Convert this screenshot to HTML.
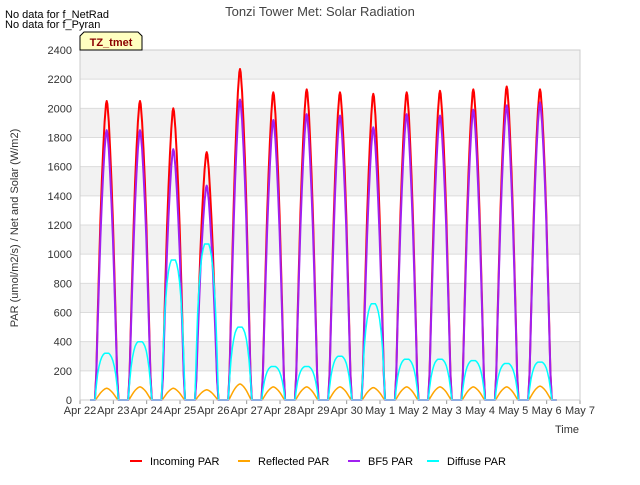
<!DOCTYPE html>
<html><head><meta charset="utf-8"><style>
body{margin:0;background:#fff;font-family:"Liberation Sans",sans-serif}
svg text{font-family:"Liberation Sans",sans-serif}
</style></head><body>
<svg id="c" width="640" height="480" xmlns="http://www.w3.org/2000/svg">
<text x="320" y="16" text-anchor="middle" font-size="13" fill="#444">Tonzi Tower Met: Solar Radiation</text>
<text x="5" y="18" font-size="11" fill="#000">No data for f_NetRad</text>
<text x="5" y="28" font-size="11" fill="#000">No data for f_Pyran</text>
<g id="plot"></g>
<path d="M80,50 L80,36 L84,32 L138,32 L142,36 L142,50 Z" fill="#ffffc0" stroke="#000"/>
<text x="111" y="46" text-anchor="middle" font-size="11" font-weight="bold" fill="#8b0000">TZ_tmet</text>
<text x="579" y="433" text-anchor="end" font-size="11" fill="#333">Time</text>
<text transform="translate(18,228) rotate(-90)" text-anchor="middle" font-size="11" fill="#333">PAR (umol/m2/s) / Net and Solar (W/m2)</text>
<g id="legend"></g>
</svg>
<script>
const days=["Apr 22","Apr 23","Apr 24","Apr 25","Apr 26","Apr 27","Apr 28","Apr 29","Apr 30","May 1","May 2","May 3","May 4","May 5","May 6","May 7"];
const yTicks=[0,200,400,600,800,1000,1200,1400,1600,1800,2000,2200,2400];
const incoming=[2050,2050,2000,1700,2270,2110,2130,2110,2100,2110,2120,2130,2150,2130];
const bf5=[1850,1850,1720,1470,2060,1920,1960,1950,1870,1960,1950,1990,2020,2040];
const diffuse=[320,400,960,1070,500,230,230,300,660,280,280,270,250,260];
const reflected=[80,90,80,70,110,90,90,90,85,90,90,90,90,95];
const profileHours=[-8.5,-7.5,-6.5,-5.5,-4.5,-3.5,-2.5,-1.5,-0.5,0,0.5,1.5,2.5,3.5,4.5,5.5,6.5,7.5,8.5];
const profile=[0,0.09,0.27,0.44,0.6,0.73,0.84,0.93,0.99,1,0.99,0.93,0.84,0.73,0.6,0.44,0.27,0.09,0];
const diffProfile=[0,0.3,0.55,0.72,0.84,0.92,0.97,1,1,1,1,1,0.97,0.92,0.84,0.72,0.55,0.3,0];
const X0=80,X1=580,Y0=400,Y1=50;
const xs=d=>X0+(X1-X0)*d/15;
const ys=v=>Y0-(Y0-Y1)*v/2400;
const NS="http://www.w3.org/2000/svg";
const plot=document.getElementById('plot');
function mk(tag,attrs,parent){const e=document.createElementNS(NS,tag);for(const k in attrs)e.setAttribute(k,attrs[k]);(parent||plot).appendChild(e);return e;}
for(let i=0;i<yTicks.length-1;i++){
 const b=mk('rect',{x:X0,y:ys(yTicks[i+1]),width:X1-X0,height:ys(yTicks[i])-ys(yTicks[i+1]),fill:i%2?'#f2f2f2':'#ffffff'});
 
 
}
yTicks.forEach(v=>{
 const l=mk('line',{x1:X0,x2:X1,y1:ys(v),y2:ys(v),stroke:'#dcdcdc'});
 
 
 const t=mk('text',{x:X0-8,y:ys(v)+4,'text-anchor':'end','font-size':11,fill:'#333'});
 t.textContent=v;
 
 
});
days.forEach((d,i)=>{
 const t=mk('text',{x:xs(i),y:414,'text-anchor':'middle','font-size':11,fill:'#333'});
 t.textContent=d;
 
 
 const tk=mk('line',{x1:xs(i),x2:xs(i),y1:400,y2:404,stroke:'#999'});
 
 
});
function series(vals,prof,color,name,w){
 let pts=[];
 pts.push([xs(0.3),ys(0)]);
 vals.forEach((p,d)=>{
  profileHours.forEach((h,j)=>pts.push([xs(d+0.8+h/24),ys(p*prof[j])]));
 });
 pts.push([xs(14.3),ys(0)]);
 const pl=mk('polyline',{points:pts.map(p=>p[0].toFixed(1)+','+p[1].toFixed(1)).join(' '),fill:'none',stroke:color,'stroke-width':w,'stroke-linejoin':'round'});
 
 
}
series(incoming,profile,'#ff0000','incoming-par-line',2);
series(reflected,profile,'#ffa500','reflected-par-line',1.5);
series(bf5,profile,'#a020f0','bf5-par-line',2);
series(diffuse,diffProfile,'#00ffff','diffuse-par-line',1.5);
const ax=mk('rect',{x:X0,y:Y1,width:X1-X0,height:Y0-Y1,fill:'none',stroke:'#ccc'});


const lg=document.getElementById('legend');
[["Incoming PAR","#ff0000",130],["Reflected PAR","#ffa500",238],["BF5 PAR","#a020f0",348],["Diffuse PAR","#00ffff",427]].forEach(([n,c,x])=>{
 const g=mk('g',{},lg);
 
 
 mk('line',{x1:x,x2:x+12,y1:461,y2:461,stroke:c,'stroke-width':2},g);
 const t=mk('text',{x:x+20,y:465,'font-size':11,fill:'#000'},g);
 t.textContent=n;
});
</script>
</body></html>
